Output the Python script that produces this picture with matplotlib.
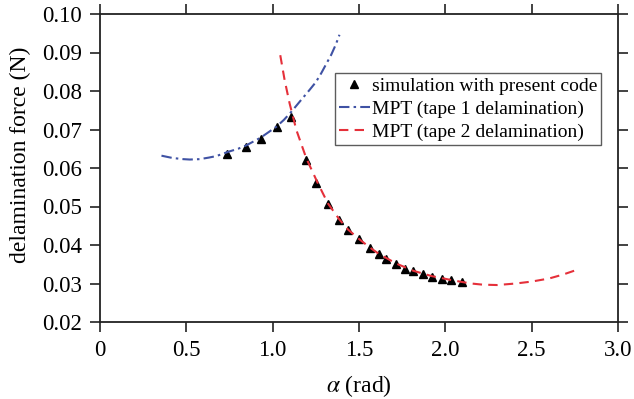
import matplotlib
matplotlib.use("Agg")
import matplotlib.pyplot as plt

# Simulation points (black triangles)
sim_x = [0.738, 0.848, 0.931, 1.025, 1.108, 1.191, 1.252, 1.320, 1.387, 1.437,
         1.499, 1.561, 1.615, 1.657, 1.715, 1.769, 1.815, 1.869, 1.923, 1.981,
         2.035, 2.096]
sim_y = [0.0637, 0.0655, 0.0675, 0.0706, 0.0732, 0.0622, 0.0562, 0.0507, 0.0465, 0.0439,
         0.0415, 0.0393, 0.0376, 0.0363, 0.0351, 0.0338, 0.0332, 0.0324, 0.0318, 0.0312,
         0.0309, 0.0304]

# MPT tape 1 curve
t1_x = [0.356, 0.42, 0.482, 0.52, 0.578, 0.63, 0.674, 0.742, 0.80, 0.848, 0.931,
        1.021, 1.065, 1.108, 1.156, 1.214, 1.25, 1.281, 1.31, 1.339, 1.365, 1.387]
t1_y = [0.0632, 0.0626, 0.0623, 0.0622, 0.0623, 0.0627, 0.0631, 0.0642, 0.0650, 0.0659,
        0.0679, 0.0707, 0.0725, 0.0746, 0.0772, 0.0803, 0.0823, 0.0846, 0.0870, 0.0894,
        0.0920, 0.0946]

# MPT tape 2 curve
t2_x = [1.044, 1.069, 1.098, 1.137, 1.195, 1.262, 1.320, 1.387, 1.437, 1.499, 1.561,
        1.615, 1.715, 1.815, 1.923, 2.035, 2.096, 2.15, 2.216, 2.30, 2.408, 2.50,
        2.601, 2.68, 2.765]
t2_y = [0.0893, 0.0829, 0.0768, 0.0699, 0.0625, 0.0560, 0.0508, 0.0466, 0.0440, 0.0416,
        0.0394, 0.0377, 0.0352, 0.0333, 0.0319, 0.0309, 0.0304, 0.0300, 0.0297, 0.0296,
        0.0300, 0.0305, 0.0313, 0.0323, 0.0336]

x_ticks = [0, 0.5, 1.0, 1.5, 2.0, 2.5, 3.0]
x_tick_labels = ["0", "0.5", "1.0", "1.5", "2.0", "2.5", "3.0"]
y_ticks = [0.02, 0.03, 0.04, 0.05, 0.06, 0.07, 0.08, 0.09, 0.10]
y_tick_labels = ["0.02", "0.03", "0.04", "0.05", "0.06", "0.07", "0.08", "0.09", "0.10"]

plt.rcParams['font.family'] = ['Liberation Serif', 'DejaVu Serif']
plt.rcParams['mathtext.fontset'] = 'stix'

fig = plt.figure(figsize=(6.34, 3.99), dpi=100)
ax = fig.add_axes([100/634, 1-322/399, 518/634, 308/399])

blue = '#3f52a4'
red = '#e5303a'

ax.plot(sim_x, sim_y, linestyle='none', marker='^', color='black', markersize=6.2,
        label='simulation with present code', zorder=2)
ax.plot(t1_x, t1_y, color=blue, linewidth=1.5, dashes=(5, 2, 1.2, 2),
        label='MPT (tape 1 delamination)', zorder=3)
ax.plot(t2_x, t2_y, color=red, linewidth=1.5, dashes=(4.5, 3),
        label='MPT (tape 2 delamination)', zorder=3)

ax.set_xlim(0, 3.0)
ax.set_ylim(0.02, 0.10)
ax.set_xticks(x_ticks)
ax.set_xticklabels(x_tick_labels)
ax.set_yticks(y_ticks)
ax.set_yticklabels(y_tick_labels)

ax.tick_params(axis='both', which='both', direction='out', length=7, width=1.2,
               labelsize=16.5, pad=6, top=True, right=True, color='#222222')
for s in ax.spines.values():
    s.set_linewidth(1.3)
    s.set_color('#222222')

ax.set_xlabel(r'$\alpha$ (rad)', fontsize=17, labelpad=9)
ax.set_ylabel('delamination force (N)', fontsize=17)
ax.yaxis.set_label_coords(-0.133, 0.542)

leg = ax.legend(loc='upper right', bbox_to_anchor=(0.967, 0.808), fontsize=14,
                frameon=True, fancybox=False, handlelength=1.6, handletextpad=0.1,
                borderpad=0.2, labelspacing=0.29, borderaxespad=0)
leg.get_frame().set_edgecolor('#333333')
leg.get_frame().set_linewidth(1.0)

fig.savefig('out.png', dpi=100)
